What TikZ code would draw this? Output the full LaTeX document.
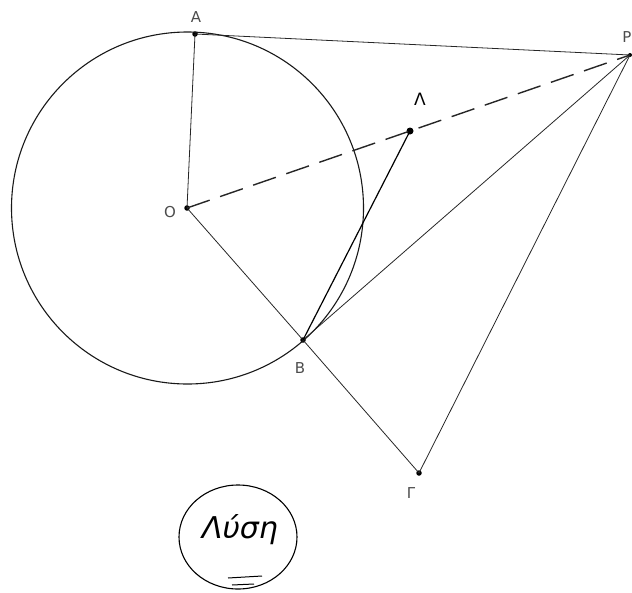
\documentclass[tikz,border=0pt]{standalone}
\usepackage{fontspec}
\setmainfont{DejaVu Sans}
\usetikzlibrary{shapes.geometric}
\begin{document}
\begin{tikzpicture}[x=1pt,y=-1pt,
  pt/.style={circle,fill=black,inner sep=0pt,minimum size=5.5pt},
  lbl/.style={text=black!70,font=\fontsize{15}{17}\selectfont,inner sep=0pt},
  thinline/.style={line width=0.8pt,black!85},
  arcline/.style={line width=1.1pt,black!90},
  dashline/.style={line width=1.4pt,black!85,dash pattern=on 24pt off 11pt}]
\useasboundingbox (0,0) rectangle (632,592);
\node[pt] (O) at (187,208) {};
\node[pt] (A) at (195,34) {};
\node[pt] (B) at (303,340) {};
\node[pt,minimum size=7pt] (L) at (410,131) {};
\node[pt] (G) at (419,473) {};
\node[pt,minimum size=4pt] (P) at (630,55) {};
\draw[arcline] (187.5,208) circle (176);
\draw[thinline] (O.center) -- (A.center);
\draw[thinline] (O.center) -- (B.center);
\draw[thinline] (B.center) -- (G.center);
\draw[thinline] (A.center) -- (P.center);
\draw[thinline] (B.center) -- (P.center);
\draw[thinline] (G.center) -- (P.center);
\draw[line width=1.2pt] (B.center) -- (L.center);
\draw[dashline] (O.center) -- (P.center);
\node[lbl] (lA) at (196,17) {A};
\node[lbl] (lO) at (170,212) {O};
\node[lbl] (lB) at (300,368) {B};
\node[lbl,font=\fontsize{17}{19}\selectfont,text=black] (lL) at (420,99) {Λ};
\node[lbl] (lG) at (411,493) {Γ};
\node[lbl,anchor=east] (lP) at (631.5,37) {Ρ};
\node[ellipse,draw,line width=1.1pt,minimum width=118pt,minimum height=104pt,inner sep=0pt] (sol) at (238,537) {};
\node[font=\fontsize{30}{34}\selectfont\itshape] (solt) at (240,530) {Λύση};
\coordinate (u1) at (228,578);
\coordinate (u2) at (262,576);
\coordinate (u3) at (232,585);
\coordinate (u4) at (254,584);
\draw[line width=1pt] (u1) -- (u2);
\draw[line width=1pt] (u3) -- (u4);
\end{tikzpicture}
\end{document}
